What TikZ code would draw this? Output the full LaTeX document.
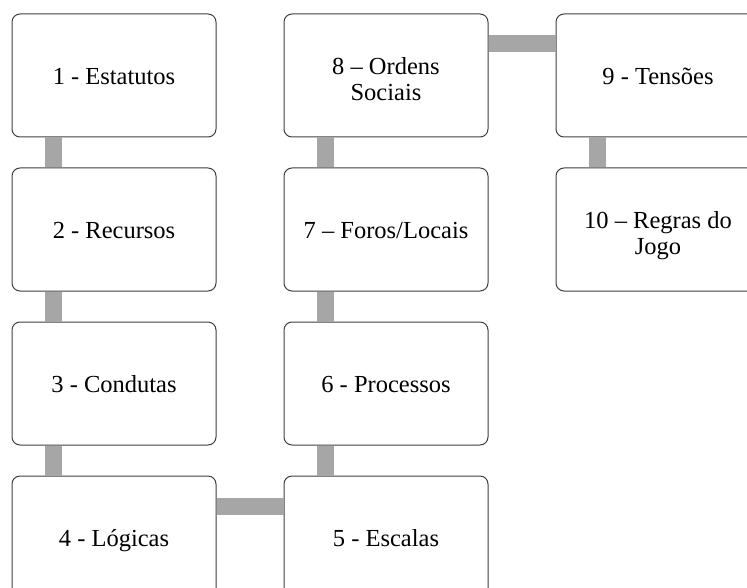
\documentclass[tikz,border=0pt]{standalone}
\usepackage{fontspec}
\setmainfont{Liberation Serif}
\usetikzlibrary{positioning}
\usetikzlibrary{calc}

\newcommand{\stagestrut}{\rule[-6pt]{0pt}{30pt}}
\newcommand{\topstrut}{\rule{0pt}{30pt}}

\begin{document}
\begin{tikzpicture}[x=1pt, y=1pt, stage/.style={rectangle, rounded corners=8pt, draw=black!75, line width=1pt, fill=white, minimum width=204pt, minimum height=123pt, align=center, inner sep=0pt, execute at begin node=\stagestrut, execute at end node=\stagestrut}, link/.style={draw=black!35, line width=17pt}, every node/.style={font=\fontsize{24.5}{26}\selectfont}]

  \useasboundingbox (0,0) rectangle (747,-588);

  \node[stage] (1) at (114,-75.5) {1 - Estatutos};
  \node[stage] (2) [below = 30pt of 1] {2 - Recursos};
  \node[stage] (3) [below = 30pt of 2] {3 - Condutas};
  \node[stage] (4) [below = 30pt of 3] {4 - Lógicas};
  \node[stage] (5) [right = 67pt of 4] {5 - Escalas};
  \node[stage] (6) [above = 30pt of 5] {6 - Processos};
  \node[stage] (7) [above = 30pt of 6] {7 – Foros/Locais};
  \node[stage] (8) [above = 30pt of 7] {\topstrut 8 – Ordens\\Sociais};
  \node[stage] (9) [right = 67pt of 8] {9 - Tensões};
  \node[stage] (10) [below = 30pt of 9] {\topstrut 10 – Regras do\\Jogo};

  \path[link]
    ($(1.south west)+(41.5,0)$) -- ($(2.north west)+(41.5,0)$)
    ($(2.south west)+(41.5,0)$) -- ($(3.north west)+(41.5,0)$)
    ($(3.south west)+(41.5,0)$) -- ($(4.north west)+(41.5,0)$)
    ($(4.north east)+(0,-30.5)$) -- ($(5.north west)+(0,-30.5)$)
    ($(5.north west)+(41.5,0)$) -- ($(6.south west)+(41.5,0)$)
    ($(6.north west)+(41.5,0)$) -- ($(7.south west)+(41.5,0)$)
    ($(7.north west)+(41.5,0)$) -- ($(8.south west)+(41.5,0)$)
    ($(8.north east)+(0,-30.5)$) -- ($(9.north west)+(0,-30.5)$)
    ($(9.south west)+(41.5,0)$) -- ($(10.north west)+(41.5,0)$)
  ;
\end{tikzpicture}
\end{document}
